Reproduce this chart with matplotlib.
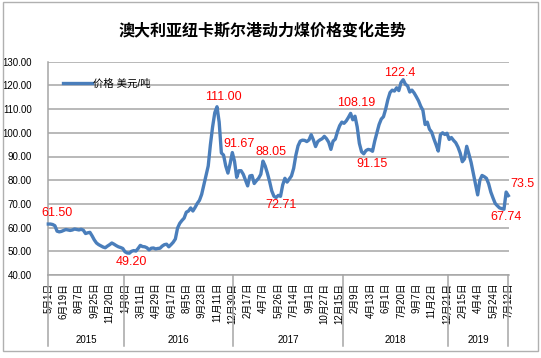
import matplotlib
matplotlib.use("Agg")
import matplotlib.pyplot as plt
import matplotlib.transforms as mtransforms
from matplotlib.patches import Rectangle

plt.rcParams['font.family'] = ['Liberation Sans', 'Noto Sans CJK SC', 'DejaVu Sans']

title = "澳大利亚纽卡斯尔港动力煤价格变化走势"
series_name = "价格 美元/吨"

prices = [
    61.5, 61.5, 61.3, 60.8, 58.5, 58.2, 58.4, 58.8, 59.2, 59.0,
    58.8, 59.0, 59.4, 59.2, 59.0, 59.3, 58.9, 57.5, 57.8, 58.0,
    56.5, 54.8, 53.5, 52.8, 52.3, 51.8, 51.5, 52.2, 52.8, 53.5,
    53.0, 52.4, 51.9, 51.6, 51.2, 49.8, 49.3, 49.2, 50.0, 50.3,
    50.1, 51.2, 52.5, 52.0, 51.9, 51.5, 50.6, 51.3, 51.4, 51.0,
    51.2, 51.3, 52.2, 52.8, 53.0, 51.9, 52.8, 53.8, 55.2, 59.8,
    61.8, 63.0, 64.0, 66.5, 67.0, 68.3, 67.0, 68.5, 70.2, 71.5,
    74.0, 78.0, 82.0, 86.0, 95.0, 102.5, 108.5, 111.0, 104.5, 91.5,
    90.6, 86.0, 83.0, 87.0, 91.67, 88.0, 81.2, 84.0, 84.0, 82.5,
    80.0, 77.6, 81.8, 82.0, 78.6, 79.8, 80.8, 82.5, 88.05, 86.0,
    83.0, 79.5, 75.5, 73.2, 72.71, 73.6, 73.2, 78.0, 80.8, 79.2,
    80.5, 81.8, 85.0, 90.5, 94.5, 96.5, 96.9, 96.8, 96.3, 97.0,
    99.2, 97.0, 94.2, 96.3, 97.0, 97.5, 98.5, 97.5, 96.0, 93.0,
    96.5, 97.3, 100.5, 103.0, 104.5, 104.0, 105.0, 106.5, 108.19, 105.5,
    107.0, 102.5, 95.5, 92.0, 91.15, 92.5, 93.0, 92.8, 92.2, 96.5,
    100.0, 103.5, 105.8, 106.8, 110.0, 114.0, 117.0, 118.0, 117.6, 119.0,
    117.8, 121.2, 122.4, 120.5, 119.8, 117.2, 118.0, 116.8, 115.2, 113.5,
    111.2, 109.5, 103.5, 104.5, 101.5, 100.3, 97.5, 95.0, 92.3, 99.2,
    100.0, 99.3, 99.8, 97.2, 98.0, 96.8, 95.8, 94.0, 91.5, 87.8,
    89.0, 94.3, 91.0, 87.5, 83.0, 78.5, 73.8, 80.0, 82.0, 81.5,
    80.8, 78.5, 75.0, 72.5, 70.2, 69.2, 68.3, 68.0, 67.74, 75.0,
    73.5,
]

tick_labels = [
    "5月1日", "6月19日", "8月7日", "9月25日", "11月20日",
    "1月8日", "3月11日", "4月29日", "6月17日", "8月5日", "9月23日", "11月11日", "12月30日",
    "2月17日", "4月7日", "5月26日", "7月14日", "9月1日", "10月27日", "12月15日",
    "2月9日", "4月13日", "6月1日", "7月20日", "9月7日", "11月2日", "12月21日",
    "2月15日", "4月4日", "5月24日", "7月12日",
]
tick_step = 7

years = ["2015", "2016", "2017", "2018", "2019"]
year_bounds = [0, 34.5, 84.5, 134.5, 182.5, 210]

# annotations: (index, text, offset in points)
ann_idx = [0, 37, 77, 84, 98, 104, 138, 144, 162, 208, 210]
ann_text = ["61.50", "49.20", "111.00", "91.67", "88.05", "72.71",
            "108.19", "91.15", "122.4", "67.74", "73.5"]
ann_off = [(6.5, 8), (1.5, -6.5), (4.3, 7.2), (5, 6), (5.8, 6.5), (3.6, -5.4),
           (4.3, 7.2), (5.8, -7.2), (-2.2, 5), (1.4, -5.8), (10, 8.7)]

W, H = 541, 358
fig = plt.figure(figsize=(W / 100, H / 100), dpi=100)
left, right, top, bottom = 48.3, 509.0, 61.7, 275.0
ax = fig.add_axes([left / W, 1 - bottom / H, (right - left) / W, (bottom - top) / H])

x = list(range(len(prices)))
line, = ax.plot(x, prices, color='#4a7ebb', lw=2.4, solid_joinstyle='round',
                label=series_name, zorder=3, clip_on=False)

ax.set_xlim(0, 210.3)
ax.set_ylim(40, 130)
ax.set_yticks(range(40, 131, 10))
ax.set_yticklabels([f"{v:.2f}" for v in range(40, 131, 10)], fontsize=7)
ax.yaxis.grid(True, color='#a6a6a6', lw=1.1)
ax.set_axisbelow(True)
ax.tick_params(axis='y', length=0, pad=12)

ticks = list(range(0, len(prices), tick_step))
ax.set_xticks(ticks)
ax.set_xticklabels(tick_labels, rotation=90, fontsize=7, va='top', ha='center')
ax.tick_params(axis='x', length=0, pad=5.5)

for s in ['top', 'right']:
    ax.spines[s].set_visible(False)
for s in ['left', 'bottom']:
    ax.spines[s].set_color('#a6a6a6')
    ax.spines[s].set_linewidth(1.1)

trans = mtransforms.blended_transform_factory(ax.transData, ax.transAxes)
sep_bottom = -(346 - 275) / (bottom - top)
for b in year_bounds:
    ax.plot([b, b], [0, sep_bottom], transform=trans, color='#a6a6a6', lw=1.1, clip_on=False)
year_y = -(340 - 275) / (bottom - top)
for i, yname in enumerate(years):
    cx = (year_bounds[i] + year_bounds[i + 1]) / 2
    ax.text(cx, year_y, yname, transform=trans, ha='center', va='center', fontsize=7)

for i, t, off in zip(ann_idx, ann_text, ann_off):
    ax.annotate(t, xy=(i, prices[i]), xytext=off, textcoords='offset points',
                ha='center', va='center', color='#ff0000', fontsize=9, annotation_clip=False)

ax.legend(handles=[line], loc='center left', bbox_to_anchor=(63 / W, 1 - 83.3 / H),
          bbox_transform=fig.transFigure, frameon=False, fontsize=7.5,
          handlelength=2.8, handletextpad=0.1, borderpad=0, borderaxespad=0)

fig.text(263 / W, 1 - 30.7 / H, title, ha='center', va='center', fontsize=11.5,
         fontweight='bold', family=['Noto Sans CJK SC'])

fig.patches.append(Rectangle((3.3 / W, 1 - 351 / H), (538 - 3.3) / W, (351 - 2) / H,
                             transform=fig.transFigure, fill=False, edgecolor='#b0b0b0', lw=1))

fig.savefig("out.png", dpi=100)
